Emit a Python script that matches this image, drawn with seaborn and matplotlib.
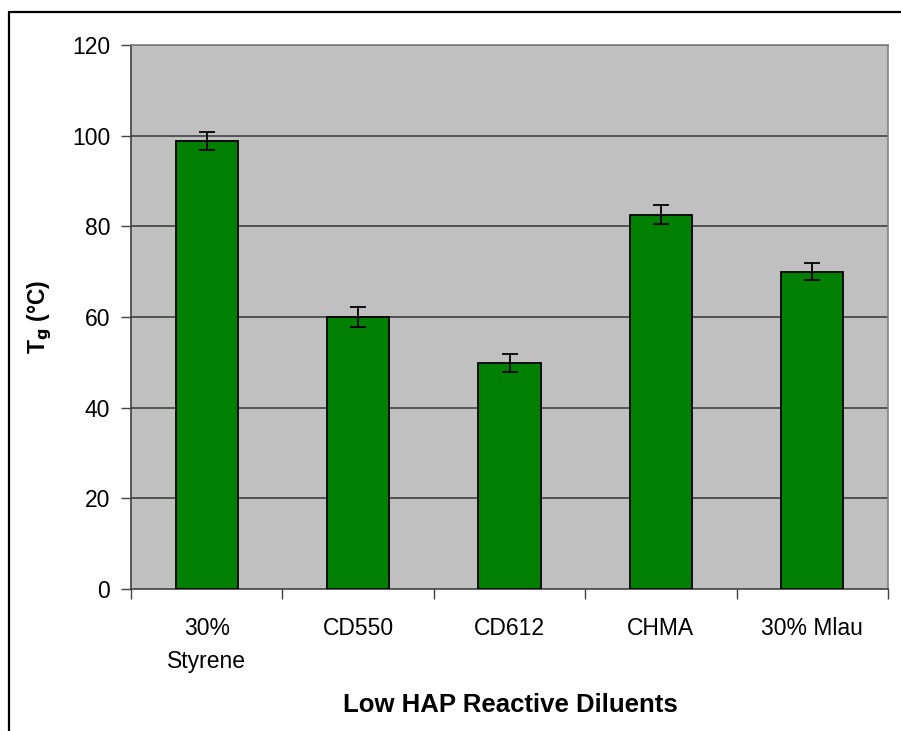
import pandas as pd
import matplotlib
matplotlib.use("Agg")
import matplotlib.pyplot as plt
from matplotlib.lines import Line2D
import seaborn as sns

# data
diluents = ["30%\nStyrene", "CD550", "CD612", "CHMA", "30% Mlau"]
tg_values = [98.8, 60.0, 49.8, 82.6, 70.0]
tg_errors = [2.0, 2.2, 2.0, 2.0, 1.9]
y_ticks = [0, 20, 40, 60, 80, 100, 120]

df = pd.DataFrame({"Diluent": diluents, "Tg": tg_values})

sns.set_style("white")
plt.rcParams["font.family"] = ["Liberation Sans", "DejaVu Sans"]
plt.rcParams["text.color"] = "black"
plt.rcParams["xtick.color"] = "black"
plt.rcParams["ytick.color"] = "black"

fig = plt.figure(figsize=(9.01, 7.31), dpi=100)
W, H = 901, 731
ax = fig.add_axes([131 / W, 1 - 589 / H, (888 - 131) / W, (589 - 45) / H])
ax.set_facecolor("#C0C0C0")

sns.barplot(data=df, x="Diluent", y="Tg", color="#008000", width=0.41,
            edgecolor="black", linewidth=1.3, errorbar=None, saturation=1,
            ax=ax, zorder=3)
ax.errorbar(df["Diluent"], df["Tg"], yerr=tg_errors, fmt="none",
            ecolor="black", elinewidth=1.3, capsize=5.5, capthick=1.3, zorder=4)

ax.set_ylim(0, 120)
ax.set_xlim(-0.5, len(diluents) - 0.5)
ax.set_yticks(y_ticks)
for y in y_ticks[1:]:
    ax.axhline(y, color="#404040", linewidth=1.2, zorder=1)

# x ticks sit on category boundaries, labels centred under bars
ax.set_xticks([i - 0.5 for i in range(len(diluents) + 1)], minor=False)
ax.set_xticklabels([])
ax.set_xticks(range(len(diluents)), minor=True)
ax.set_xticklabels(diluents, minor=True, fontsize=16.5, linespacing=1.55,
                   color="black")
ax.tick_params(axis="x", which="minor", length=0, pad=20)
ax.tick_params(axis="x", which="major", direction="out", length=7,
               width=1, color="#404040", bottom=True)
ax.tick_params(axis="y", direction="out", length=7, width=1,
               color="#404040", left=True, labelsize=16.5, pad=8,
               labelcolor="black")

for side in ["left", "bottom"]:
    ax.spines[side].set_color("#404040")
    ax.spines[side].set_linewidth(1.2)
for side in ["top", "right"]:
    ax.spines[side].set_color("#808080")
    ax.spines[side].set_linewidth(1.2)

ax.set_xlabel("")
ax.set_ylabel("")
fig.text(40 / W, 1 - 317 / H, r"T$_\mathbf{g}$ (°C)", rotation=90,
         fontsize=16.5, fontweight="bold", ha="center", va="center")
fig.text(510 / W, 1 - 705 / H, "Low HAP Reactive Diluents",
         fontsize=18.5, fontweight="bold", ha="center", va="center")

# outer frame (top and left edges)
fig.add_artist(Line2D([9 / W, 1], [1 - 12 / H, 1 - 12 / H],
                      transform=fig.transFigure, color="black", linewidth=1.6))
fig.add_artist(Line2D([9 / W, 9 / W], [0, 1 - 12 / H],
                      transform=fig.transFigure, color="black", linewidth=1.6))

plt.savefig("out.png", dpi=100)
plt.close()
